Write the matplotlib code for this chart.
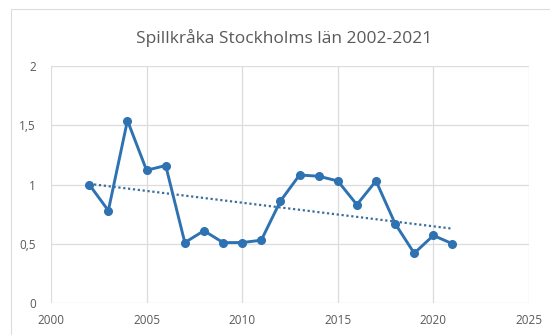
import numpy as np
import matplotlib.pyplot as plt
from matplotlib.patches import Rectangle
from matplotlib.ticker import FuncFormatter

# Spillkråka, index per år
years = [2002, 2003, 2004, 2005, 2006, 2007, 2008, 2009, 2010, 2011,
         2012, 2013, 2014, 2015, 2016, 2017, 2018, 2019, 2020, 2021]
values = [1.00, 0.78, 1.54, 1.12, 1.16, 0.51, 0.61, 0.51, 0.51, 0.53,
          0.86, 1.08, 1.07, 1.03, 0.83, 1.03, 0.67, 0.42, 0.57, 0.50]
x_ticks = [2000, 2005, 2010, 2015, 2020, 2025]
y_ticks = [0, 0.5, 1, 1.5, 2]

plt.rcParams['font.family'] = ['Open Sans', 'DejaVu Sans']
text_gray = '#595959'
grid_gray = '#dcdcdc'
blue = '#2e72b2'

fig = plt.figure(figsize=(5.5, 3.35), dpi=100)
ax = fig.add_axes([0.0927, 0.0955, 0.869, 0.7075])

# outer chart frame (top and left edges visible)
fig.patches.append(Rectangle((11 / 550, -0.1), 1.0, 1 - 9 / 335 + 0.1,
                             transform=fig.transFigure, fill=False,
                             edgecolor='#dcdcdc', linewidth=0.8))

ax.plot(years, values, color=blue, linewidth=2.1, marker='o', markersize=5.5,
        zorder=3)

# linear trend
k, m = np.polyfit(years, values, 1)
trend_x = np.array([years[0], years[-1]])
ax.plot(trend_x, k * trend_x + m, color='#3a6d9e', linewidth=1.6,
        linestyle=(0, (1, 1.2)), zorder=2)

ax.set_xlim(x_ticks[0], x_ticks[-1])
ax.set_ylim(y_ticks[0], y_ticks[-1])
ax.set_xticks(x_ticks)
ax.set_yticks(y_ticks)
ax.yaxis.set_major_formatter(FuncFormatter(
    lambda v, _: ('%g' % v).replace('.', ',')))
ax.grid(True, color=grid_gray, linewidth=0.9)
ax.set_axisbelow(True)
for s in ax.spines.values():
    s.set_visible(False)
ax.tick_params(length=0, labelsize=8.5, colors=text_gray, pad=8)
ax.tick_params(axis='y', pad=11)

fig.text(284 / 550, 1 - 38 / 335, 'Spillkråka Stockholms län 2002-2021',
         ha='center', va='center', fontsize=12.5, color=text_gray)

fig.savefig('out.png', dpi=100, facecolor='white')
